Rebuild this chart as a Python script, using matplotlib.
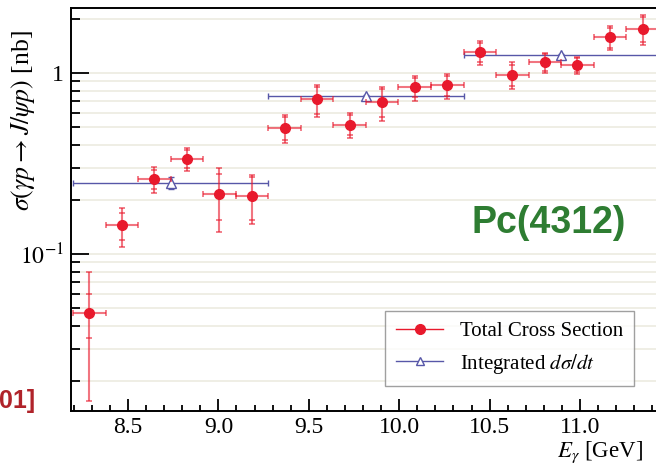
import numpy as np
import matplotlib
matplotlib.use("Agg")
from matplotlib import pyplot as plt
from matplotlib.ticker import FixedLocator, FixedFormatter, MultipleLocator, NullFormatter

plt.rcParams['font.family'] = ['Liberation Serif', 'DejaVu Serif']
plt.rcParams['mathtext.fontset'] = 'stix'

# total cross section points
e_tot = [8.286, 8.466, 8.646, 8.826, 9.006, 9.186, 9.366, 9.546, 9.726,
         9.906, 10.086, 10.266, 10.446, 10.626, 10.806, 10.986, 11.166, 11.346]
e_tot_err = [0.09] * 18
xs_tot = [0.0475, 0.144, 0.26, 0.337, 0.215, 0.21, 0.498, 0.716, 0.518,
          0.691, 0.834, 0.855, 1.306, 0.979, 1.15, 1.111, 1.575, 1.757]
xs_stat = [0.013, 0.024, 0.031, 0.04, 0.06, 0.055, 0.07, 0.12, 0.065,
           0.12, 0.1, 0.11, 0.16, 0.13, 0.12, 0.1, 0.2, 0.28]
xs_total_err = [0.032, 0.035, 0.042, 0.05, 0.083, 0.063, 0.087, 0.143, 0.08,
                0.148, 0.13, 0.135, 0.2, 0.167, 0.145, 0.12, 0.24, 0.33]

# integrated dsigma/dt points
e_int = [8.736, 9.816, 10.896]
e_int_err = [0.54, 0.54, 0.54]
xs_int = [0.248, 0.746, 1.252]
xs_int_err = [0.019, 0.012, 0.02]

red = '#e8192c'
blue = '#5757a8'

fig = plt.figure(figsize=(6.56, 4.66), dpi=100)
ax = fig.add_axes([0.1082, 0.118, 0.8918, 0.8648])
ax.set_yscale('log')
ax.set_xlim(8.1847, 11.4204)
ax.set_ylim(0.01357, 2.286)

# grid on every y tick
for d in [0.01, 0.1, 1.0]:
    for k in range(1, 10):
        v = d * k
        if 0.01357 < v < 2.286:
            ax.axhline(v, color='#eeede3', lw=1.3, zorder=0)

ax.errorbar(e_int, xs_int, xerr=e_int_err, yerr=xs_int_err, fmt='^',
            color=blue, mfc='white', mec=blue, ms=7, mew=1.0,
            elinewidth=1.0, capsize=2.2, capthick=1.0, zorder=2)

ax.errorbar(e_tot, xs_tot, xerr=e_tot_err, yerr=xs_total_err, fmt='none',
            ecolor=red, alpha=0.6, elinewidth=1.5, capsize=2.5, capthick=1.3,
            zorder=3)
ax.errorbar(e_tot, xs_tot, yerr=xs_stat, fmt='none',
            ecolor=red, alpha=0.6, elinewidth=0, capsize=2.5, capthick=1.3,
            zorder=3)
ax.plot(e_tot, xs_tot, 'o', color=red, ms=7, zorder=4)

# legend
h1, = ax.plot([], [], '-o', color=red, ms=7, lw=1.0)
h2, = ax.plot([], [], '-^', color=blue, mfc='white', ms=6, lw=1.0)
leg = ax.legend([h1, h2], ['Total Cross Section', r'Integrated $d\sigma/dt$'],
                loc='lower left', bbox_to_anchor=(0.537, 0.062, 0.0, 0.0),
                fontsize=15, frameon=True, fancybox=False, handlelength=2.3,
                borderpad=0.5, labelspacing=0.5, borderaxespad=0)
leg.get_frame().set_edgecolor('#888888')
leg.get_frame().set_linewidth(1.0)

# ticks
ax.xaxis.set_major_locator(MultipleLocator(0.5))
ax.xaxis.set_minor_locator(MultipleLocator(0.1))
ax.yaxis.set_major_locator(FixedLocator([0.1, 1.0]))
ax.yaxis.set_major_formatter(FixedFormatter([r'$10^{-1}$', '1']))
ax.yaxis.set_minor_locator(FixedLocator([0.02, 0.03, 0.04, 0.05, 0.06, 0.07, 0.08, 0.09,
                                         0.2, 0.3, 0.4, 0.5, 0.6, 0.7, 0.8, 0.9, 2.0]))
ax.yaxis.set_minor_formatter(NullFormatter())
ax.tick_params(axis='both', which='both', direction='in', labelsize=17, width=1.3)
ax.tick_params(axis='y', which='major', length=13, pad=5)
ax.tick_params(axis='y', which='minor', length=6.5)
ax.tick_params(axis='x', which='major', length=8.5, pad=4)
ax.tick_params(axis='x', which='minor', length=4.5)
ax.spines['right'].set_visible(False)
for s in ['left', 'bottom', 'top']:
    ax.spines[s].set_linewidth(1.4)

ax.set_ylabel(r'$\sigma(\gamma p \rightarrow J/\psi p)$ [nb]', fontsize=18.5)
ax.yaxis.set_label_coords(-0.058, 0.72)
ax.yaxis.label.set_verticalalignment('bottom')
ax.set_xlabel(r'$E_{\gamma}$ [GeV]', fontsize=16.5, ha='right')
ax.xaxis.set_label_coords(0.978, -0.071)
ax.xaxis.label.set_verticalalignment('top')

fig.text(0.719, 0.5006, 'Pc(4312)', family='Liberation Sans', weight='bold',
         fontsize=27, color='#2e7d32')
fig.text(0.0534, 0.1245, '01]', family='Liberation Sans', weight='bold',
         fontsize=18, color='#b0232a', ha='right')

fig.savefig('out.png', dpi=100)
